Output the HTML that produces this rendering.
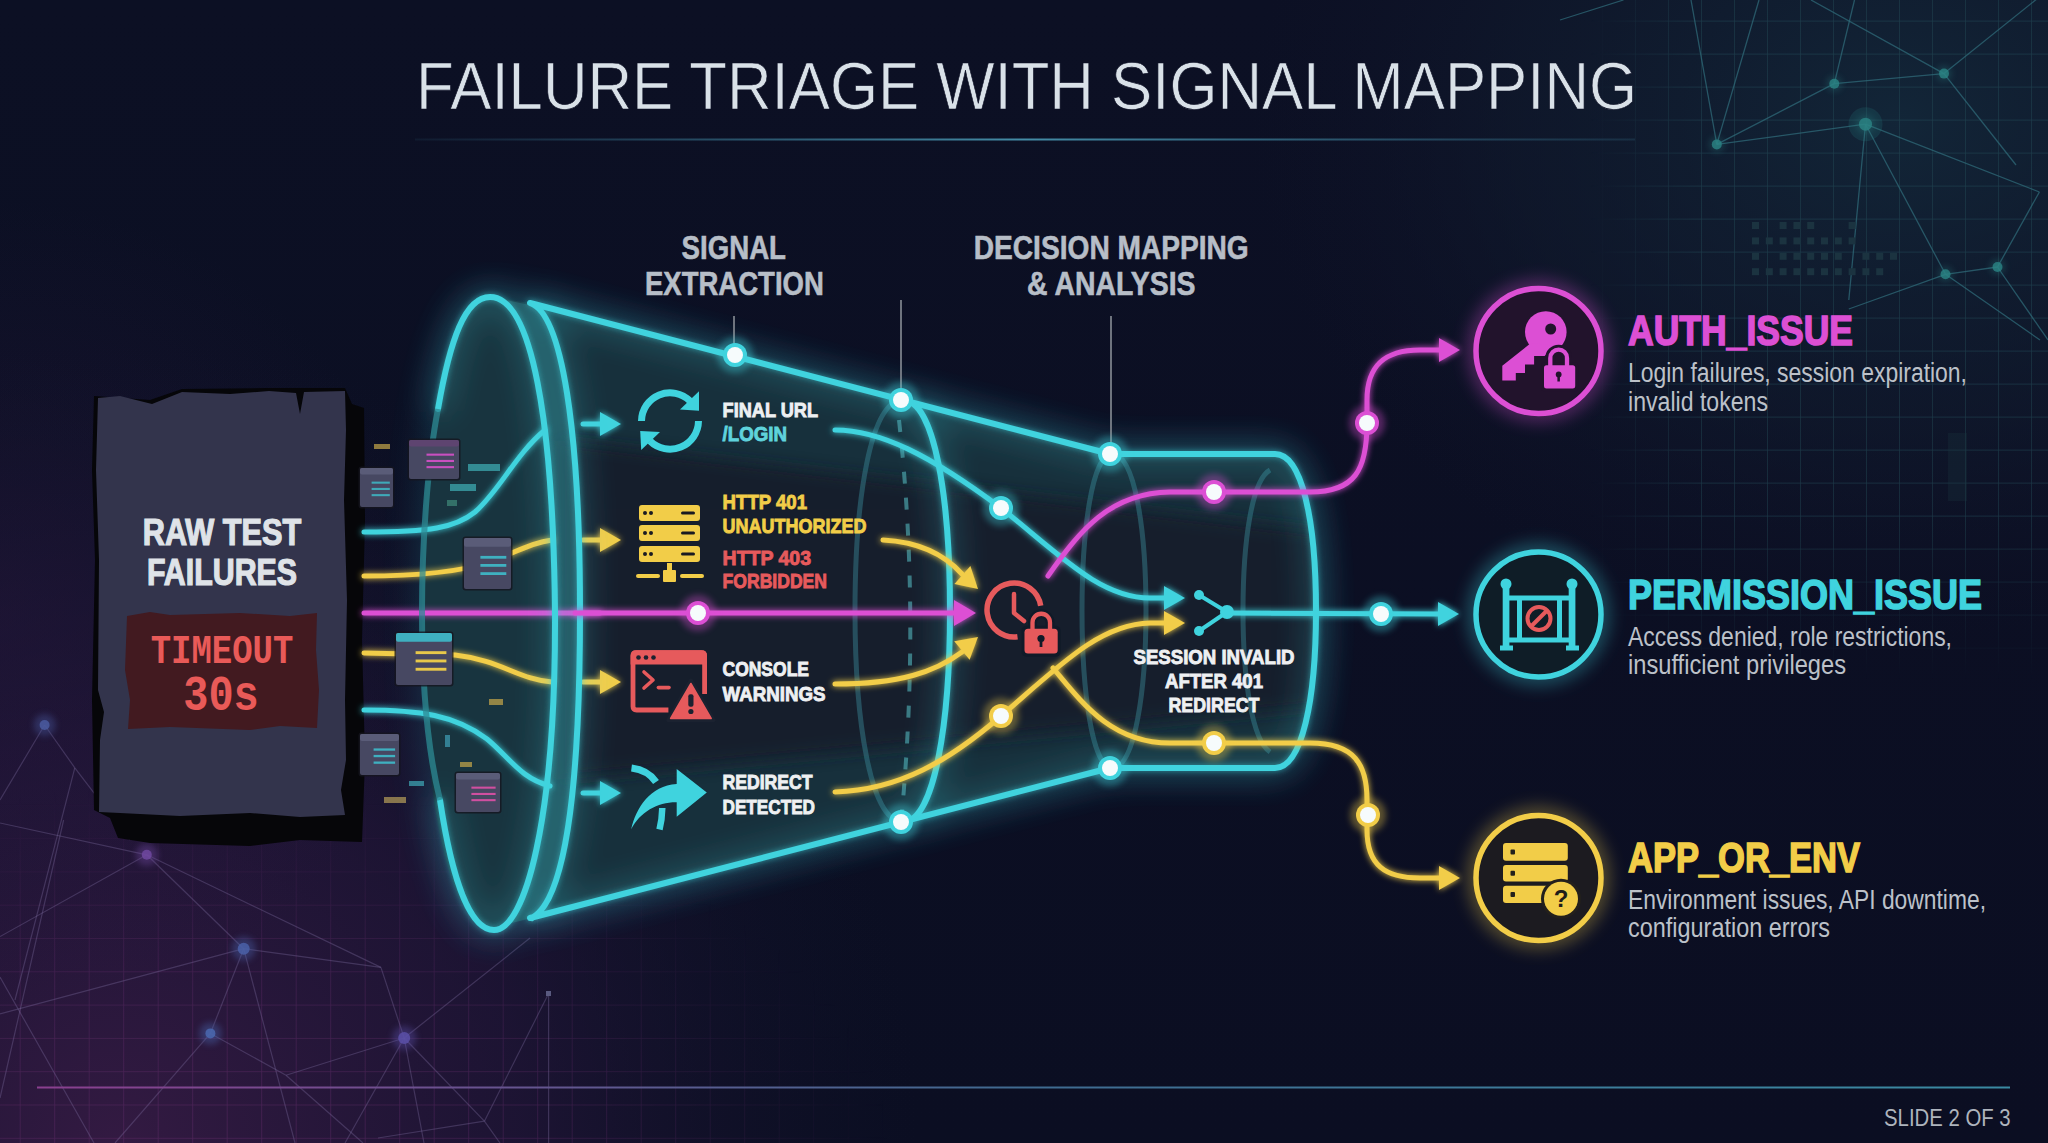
<!DOCTYPE html>
<html><head><meta charset="utf-8"><title>Failure Triage</title><style>
html,body{margin:0;padding:0;background:#0e1124;width:2048px;height:1143px;overflow:hidden}
svg{display:block}
text{font-family:"Liberation Sans",sans-serif}
</style></head><body>
<svg width="2048" height="1143" viewBox="0 0 2048 1143">
<defs>
<radialGradient id="bgPurple" cx="120" cy="1143" r="800" gradientUnits="userSpaceOnUse">
 <stop offset="0" stop-color="#331a42" stop-opacity="1"/>
 <stop offset="0.5" stop-color="#24163a" stop-opacity="0.7"/>
 <stop offset="1" stop-color="#10132a" stop-opacity="0"/>
</radialGradient>
<radialGradient id="bgPurple2" cx="0" cy="620" r="420" gradientUnits="userSpaceOnUse">
 <stop offset="0" stop-color="#2a1840" stop-opacity="0.4"/>
 <stop offset="1" stop-color="#2a1840" stop-opacity="0"/>
</radialGradient>
<radialGradient id="bgTeal" cx="1900" cy="120" r="650" gradientUnits="userSpaceOnUse" gradientTransform="translate(1900 120) scale(1 0.8) translate(-1900 -120)">
 <stop offset="0" stop-color="#13283a" stop-opacity="0.9"/>
 <stop offset="0.6" stop-color="#111d30" stop-opacity="0.5"/>
 <stop offset="1" stop-color="#10132a" stop-opacity="0"/>
</radialGradient>
<linearGradient id="bgBase" x1="0" y1="0" x2="0" y2="1">
 <stop offset="0" stop-color="#0c1024"/>
 <stop offset="1" stop-color="#0b0e22"/>
</linearGradient>
<pattern id="gridT" width="33" height="33" patternUnits="userSpaceOnUse" x="18" y="20.6">
 <path d="M0 0H33M0 0V33" fill="none" stroke="#24505c" stroke-width="1.3" stroke-opacity="0.6"/>
</pattern>
<pattern id="gridP" width="34.5" height="33.3" patternUnits="userSpaceOnUse" x="19.7" y="5.6">
 <path d="M0 0H34.5M0 0V33.3" fill="none" stroke="#5a2a62" stroke-width="1.5" stroke-opacity="0.7"/>
</pattern>
<radialGradient id="mT" cx="1880" cy="120" r="520" gradientUnits="userSpaceOnUse" gradientTransform="translate(1880 120) scale(1 0.8) translate(-1880 -120)">
 <stop offset="0" stop-color="#fff" stop-opacity="1"/><stop offset="0.6" stop-color="#fff" stop-opacity="0.6"/><stop offset="1" stop-color="#fff" stop-opacity="0"/>
</radialGradient>
<linearGradient id="mTYg" x1="0" y1="520" x2="0" y2="680" gradientUnits="userSpaceOnUse"><stop offset="0" stop-color="#fff" stop-opacity="1"/><stop offset="1" stop-color="#fff" stop-opacity="0"/></linearGradient>
<mask id="maskT"><rect width="2048" height="1143" fill="url(#mTYg)"/></mask>
<linearGradient id="mTLg" x1="1590" y1="0" x2="1700" y2="0" gradientUnits="userSpaceOnUse"><stop offset="0" stop-color="#fff" stop-opacity="0"/><stop offset="1" stop-color="#fff" stop-opacity="1"/></linearGradient>
<mask id="maskTL"><rect width="2048" height="1143" fill="url(#mTLg)"/></mask>
<radialGradient id="mP" cx="200" cy="1143" r="600" fx="200" fy="1143" gradientUnits="userSpaceOnUse" gradientTransform="translate(200 1143) scale(1.15 0.6) translate(-200 -1143)">
 <stop offset="0" stop-color="#fff" stop-opacity="1"/><stop offset="0.5" stop-color="#fff" stop-opacity="0.75"/><stop offset="1" stop-color="#fff" stop-opacity="0"/>
</radialGradient>
<mask id="maskP"><rect width="2048" height="1143" fill="url(#mP)"/></mask>
<linearGradient id="titleLine" x1="0" y1="0" x2="1" y2="0">
 <stop offset="0" stop-color="#3a7f9a" stop-opacity="0.1"/>
 <stop offset="0.5" stop-color="#4a9ab5" stop-opacity="0.9"/>
 <stop offset="1" stop-color="#3a7f9a" stop-opacity="0.2"/>
</linearGradient>
<linearGradient id="botLine" x1="0" y1="0" x2="1" y2="0">
 <stop offset="0" stop-color="#8a3f8f"/>
 <stop offset="0.5" stop-color="#3f6a90"/>
 <stop offset="1" stop-color="#3a8aa2"/>
</linearGradient>
<filter id="glow" x="-30%" y="-30%" width="160%" height="160%">
 <feGaussianBlur in="SourceGraphic" stdDeviation="3" result="b1a"/>
 <feComponentTransfer in="b1a" result="b1"><feFuncA type="linear" slope="0.6"/></feComponentTransfer>
 <feGaussianBlur in="SourceGraphic" stdDeviation="16" result="b2a"/>
 <feComponentTransfer in="b2a" result="b2"><feFuncA type="linear" slope="0.8"/></feComponentTransfer>
 <feMerge><feMergeNode in="b2"/><feMergeNode in="b1"/><feMergeNode in="SourceGraphic"/></feMerge>
</filter>
<filter id="glowS" x="-50%" y="-50%" width="200%" height="200%">
 <feGaussianBlur in="SourceGraphic" stdDeviation="3" result="b1"/>
 <feMerge><feMergeNode in="b1"/><feMergeNode in="SourceGraphic"/></feMerge>
</filter>
<filter id="blur20" x="-50%" y="-50%" width="200%" height="200%"><feGaussianBlur stdDeviation="20"/></filter>
<filter id="blur8" x="-50%" y="-50%" width="200%" height="200%"><feGaussianBlur stdDeviation="8"/></filter>
<filter id="blur3" x="-50%" y="-50%" width="200%" height="200%"><feGaussianBlur stdDeviation="3"/></filter>
</defs>

<rect width="2048" height="1143" fill="url(#bgBase)"/>
<rect width="2048" height="1143" fill="url(#bgTeal)"/>
<rect width="2048" height="1143" fill="url(#bgPurple)"/>
<rect width="2048" height="1143" fill="url(#bgPurple2)"/>
<g mask="url(#maskT)"><rect x="1560" y="0" width="488" height="760" fill="url(#gridT)" mask="url(#maskTL)"/></g>
<rect width="2048" height="1143" fill="url(#gridP)" mask="url(#maskP)"/>
<g stroke="#2f6a78" stroke-width="1.3" stroke-opacity="0.75" fill="none">
<line x1="1716.8" y1="144.4" x2="1691" y2="0"/>
<line x1="1716.8" y1="144.4" x2="1759" y2="0"/>
<line x1="1716.8" y1="144.4" x2="1834.3" y2="83.7"/>
<line x1="1716.8" y1="144.4" x2="1865.5" y2="124.2"/>
<line x1="1834.3" y1="83.7" x2="1944" y2="73.6"/>
<line x1="1834.3" y1="83.7" x2="1854.5" y2="0"/>
<line x1="1944" y1="73.6" x2="2048" y2="-10"/>
<line x1="1944" y1="73.6" x2="1811" y2="0"/>
<line x1="1944" y1="73.6" x2="2016" y2="165"/>
<line x1="1865.5" y1="124.2" x2="1945.5" y2="274.3"/>
<line x1="1865.5" y1="124.2" x2="2039.4" y2="192"/>
<line x1="1865.5" y1="124.2" x2="1848.8" y2="300"/>
<line x1="2039.4" y1="192" x2="1997.5" y2="267"/>
<line x1="1997.5" y1="267" x2="2048" y2="340"/>
<line x1="1945.5" y1="274.3" x2="1997.5" y2="267"/>
<line x1="1945.5" y1="274.3" x2="1848.8" y2="309"/>
<line x1="1945.5" y1="274.3" x2="2040" y2="340"/>
<line x1="1560" y1="20" x2="1623.5" y2="0"/>
</g>
<circle cx="1834.3" cy="83.7" r="8" fill="#2a8a8a" opacity="0.25" filter="url(#blur3)"/>
<circle cx="1834.3" cy="83.7" r="5" fill="#2a8585" opacity="0.8"/>
<circle cx="1944" cy="73.6" r="8" fill="#2a8a8a" opacity="0.25" filter="url(#blur3)"/>
<circle cx="1944" cy="73.6" r="5" fill="#2a8585" opacity="0.8"/>
<circle cx="1865.5" cy="124.2" r="17" fill="#2a8a8a" opacity="0.18"/>
<circle cx="1865.5" cy="124.2" r="9.5" fill="#2a8a8a" opacity="0.25" filter="url(#blur3)"/>
<circle cx="1865.5" cy="124.2" r="6.5" fill="#2a8585" opacity="0.8"/>
<circle cx="1716.8" cy="144.4" r="8" fill="#2a8a8a" opacity="0.25" filter="url(#blur3)"/>
<circle cx="1716.8" cy="144.4" r="5" fill="#2a8585" opacity="0.8"/>
<circle cx="1945.5" cy="274.3" r="8" fill="#2a8a8a" opacity="0.25" filter="url(#blur3)"/>
<circle cx="1945.5" cy="274.3" r="5" fill="#2a8585" opacity="0.8"/>
<circle cx="1997.5" cy="267" r="8" fill="#2a8a8a" opacity="0.25" filter="url(#blur3)"/>
<circle cx="1997.5" cy="267" r="5" fill="#2a8585" opacity="0.8"/>
<rect x="1948" y="433" width="19" height="68" fill="#1a3440" opacity="0.3"/>
<g fill="#1b3340">
<rect x="1752.0" y="222.0" width="7" height="7"/>
<rect x="1779.6" y="222.0" width="7" height="7"/>
<rect x="1793.4" y="222.0" width="7" height="7"/>
<rect x="1807.2" y="222.0" width="7" height="7"/>
<rect x="1848.6" y="222.0" width="7" height="7"/>
<rect x="1752.0" y="237.4" width="7" height="7"/>
<rect x="1765.8" y="237.4" width="7" height="7"/>
<rect x="1779.6" y="237.4" width="7" height="7"/>
<rect x="1793.4" y="237.4" width="7" height="7"/>
<rect x="1807.2" y="237.4" width="7" height="7"/>
<rect x="1821.0" y="237.4" width="7" height="7"/>
<rect x="1834.8" y="237.4" width="7" height="7"/>
<rect x="1848.6" y="237.4" width="7" height="7"/>
<rect x="1752.0" y="252.8" width="7" height="7"/>
<rect x="1779.6" y="252.8" width="7" height="7"/>
<rect x="1793.4" y="252.8" width="7" height="7"/>
<rect x="1807.2" y="252.8" width="7" height="7"/>
<rect x="1821.0" y="252.8" width="7" height="7"/>
<rect x="1834.8" y="252.8" width="7" height="7"/>
<rect x="1862.4" y="252.8" width="7" height="7"/>
<rect x="1876.2" y="252.8" width="7" height="7"/>
<rect x="1890.0" y="252.8" width="7" height="7"/>
<rect x="1752.0" y="268.2" width="7" height="7"/>
<rect x="1765.8" y="268.2" width="7" height="7"/>
<rect x="1779.6" y="268.2" width="7" height="7"/>
<rect x="1793.4" y="268.2" width="7" height="7"/>
<rect x="1807.2" y="268.2" width="7" height="7"/>
<rect x="1821.0" y="268.2" width="7" height="7"/>
<rect x="1834.8" y="268.2" width="7" height="7"/>
<rect x="1848.6" y="268.2" width="7" height="7"/>
<rect x="1862.4" y="268.2" width="7" height="7"/>
<rect x="1876.2" y="268.2" width="7" height="7"/>
</g>
<g stroke="#7a6a9a" stroke-width="1.2" stroke-opacity="0.38" fill="none">
<line x1="44.6" y1="725" x2="74.8" y2="767.8"/>
<line x1="44.6" y1="725" x2="0" y2="800"/>
<line x1="74.8" y1="767.8" x2="130" y2="840"/>
<line x1="74.8" y1="767.8" x2="15" y2="1000"/>
<line x1="0" y1="936.6" x2="146.8" y2="854.8"/>
<line x1="0" y1="823" x2="146.8" y2="854.8"/>
<line x1="63.6" y1="820" x2="0" y2="1098"/>
<line x1="0" y1="977" x2="94" y2="1143"/>
<line x1="0" y1="1013.8" x2="243.7" y2="948.7"/>
<line x1="146.8" y1="854.8" x2="243.7" y2="948.7"/>
<line x1="146.8" y1="854.8" x2="380.9" y2="967.4"/>
<line x1="243.7" y1="948.7" x2="380.9" y2="967.4"/>
<line x1="243.7" y1="948.7" x2="210.4" y2="1033.4"/>
<line x1="243.7" y1="948.7" x2="295" y2="1143"/>
<line x1="210.4" y1="1033.4" x2="115" y2="1143"/>
<line x1="210.4" y1="1033.4" x2="286" y2="1075.2"/>
<line x1="286" y1="1075.2" x2="363" y2="1143"/>
<line x1="286" y1="1075.2" x2="404.2" y2="1038"/>
<line x1="380.9" y1="967.4" x2="404.2" y2="1038"/>
<line x1="404.2" y1="1038" x2="345" y2="1143"/>
<line x1="404.2" y1="1038" x2="484.4" y2="1121.2"/>
<line x1="404.2" y1="1038" x2="424" y2="1143"/>
<line x1="484.4" y1="1121.2" x2="548.6" y2="993.5"/>
<line x1="548.6" y1="993.5" x2="548.6" y2="1143"/>
<line x1="404.2" y1="1038" x2="530" y2="938"/>
<line x1="484.4" y1="1121.2" x2="378" y2="1138"/>
<line x1="484.4" y1="1121.2" x2="500" y2="1143"/>
</g>
<circle cx="44.6" cy="725" r="11" fill="#4a5aa0" opacity="0.4" filter="url(#blur3)"/>
<circle cx="44.6" cy="725" r="5" fill="#4a5aa0" opacity="0.85"/>
<circle cx="146.8" cy="854.8" r="11" fill="#7048a0" opacity="0.4" filter="url(#blur3)"/>
<circle cx="146.8" cy="854.8" r="5" fill="#7048a0" opacity="0.85"/>
<circle cx="243.7" cy="948.7" r="12" fill="#4a60a8" opacity="0.4" filter="url(#blur3)"/>
<circle cx="243.7" cy="948.7" r="6" fill="#4a60a8" opacity="0.85"/>
<circle cx="210.4" cy="1033.4" r="11" fill="#4a68b0" opacity="0.4" filter="url(#blur3)"/>
<circle cx="210.4" cy="1033.4" r="5" fill="#4a68b0" opacity="0.85"/>
<circle cx="404.2" cy="1038" r="12" fill="#5a50a8" opacity="0.4" filter="url(#blur3)"/>
<circle cx="404.2" cy="1038" r="6" fill="#5a50a8" opacity="0.85"/>
<rect x="546" y="991" width="5" height="5" fill="#5a5a80"/>
<text x="416" y="109" font-size="66" fill="#d9e1e8" stroke="#0d1025" stroke-width="0.7" textLength="1221" lengthAdjust="spacingAndGlyphs">FAILURE TRIAGE WITH SIGNAL MAPPING</text>
<rect x="415" y="138.5" width="1220" height="2" fill="url(#titleLine)"/>
<rect x="37" y="1086.5" width="1973" height="2" fill="url(#botLine)"/>
<text x="1884" y="1125.6" font-size="24" fill="#aeb4bd" textLength="126.6" lengthAdjust="spacingAndGlyphs">SLIDE 2 OF 3</text>
<path d="M94,396 L150,400 L182,389 L268,388 L345,388 L352,404 L364,408 L365,520 L362,640 L365,760 L362,842 L300,840 L250,846 L150,843 L118,838 L110,818 L94,810 L92,700 L95,560 L92,470 Z" fill="#060609"/>
<path d="M98,398 L120,396 L152,404 L182,392 L230,394 L269,391 L296,393 L300,414 L304,392 L345,391 L346,430 L344,500 L347,600 L345,700 L346,760 L341,790 L345,815 L300,817 L250,813 L180,816 L120,813 L99,812 L100,740 L104,712 L98,690 L99,560 L96,470 Z" fill="#33344c"/>
<path d="M127,616 L150,612 L170,615 L240,613 L290,616 L317,613 L316,650 L319,690 L317,728 L280,726 L250,730 L170,727 L128,729 L130,700 L125,670 Z" fill="#421a20"/>
<text x="222" y="545" font-size="36" font-weight="bold" fill="#dfe3e8" text-anchor="middle" textLength="158.5" lengthAdjust="spacingAndGlyphs" stroke="#dfe3e8" stroke-width="1.2" >RAW TEST</text>
<text x="222" y="585" font-size="36" font-weight="bold" fill="#dfe3e8" text-anchor="middle" textLength="150" lengthAdjust="spacingAndGlyphs" stroke="#dfe3e8" stroke-width="1.2" >FAILURES</text>
<text x="222" y="662.7" font-size="40" font-weight="bold" fill="#e95a58" text-anchor="middle" textLength="142.6" lengthAdjust="spacingAndGlyphs" style="font-family:'Liberation Mono',monospace">TIMEOUT</text>
<text x="221" y="710" font-size="50" font-weight="bold" fill="#e95a58" text-anchor="middle" textLength="75.6" lengthAdjust="spacingAndGlyphs" style="font-family:'Liberation Mono',monospace">30s</text>
<path d="M490,297 C445,297 422,420 422,612 C422,800 450,928 492,928 L530,918 L1110,768 L1275,768 C1302,768 1316,700 1316,611 C1316,520 1302,454 1275,454 L1110,454 L530,303 L490,297 Z" fill="#2fc8d8" opacity="0.22" filter="url(#blur20)"/>
<path d="M490,297 C445,297 422,420 422,612 C422,800 450,928 492,928 L530,918 L1110,768 L1275,768 C1302,768 1316,700 1316,611 C1316,520 1302,454 1275,454 L1110,454 L530,303 L490,297 Z" fill="#17303c"/>
<clipPath id="coneClip"><path d="M490,297 C445,297 422,420 422,612 C422,800 450,928 492,928 L530,918 L1110,768 L1275,768 C1302,768 1316,700 1316,611 C1316,520 1302,454 1275,454 L1110,454 L530,303 L490,297 Z"/></clipPath>
<g clip-path="url(#coneClip)">
<path d="M560,440 L1330,532 L1330,706 L560,780 Z" fill="#141d2c" opacity="0.85" filter="url(#blur8)"/>
<ellipse cx="489" cy="612" rx="67" ry="315" fill="#1c4048" opacity="0.25"/>
</g>
<path d="M490,297 C535,297 556,420 556,612 C556,800 535,928 492,928 L532,918 C565,900 580,790 580,612 C580,430 562,315 530,305 Z" fill="#2a6670" opacity="0.5"/>
<g fill="none" stroke="#3a8a98" stroke-width="5" opacity="0.45">
<path d="M903,400 C870,400 855,500 855,611 C855,720 870,822 903,822"/>
<path d="M1112,454 C1092,454 1082,530 1082,611 C1082,690 1092,768 1112,768"/>
<path d="M1112,454 C1135,454 1146,530 1146,611 C1146,690 1135,768 1112,768"/>
<path d="M1270,470 C1252,480 1243,540 1243,611 C1243,680 1252,740 1270,752"/>
</g>
<path d="M899,420 Q920,611 902,812" fill="none" stroke="#4aa0a8" stroke-width="4" stroke-dasharray="12 14" opacity="0.7"/>
<g filter="url(#glowS)">
<path d="M364,532 C430,532 455,528 475,512 C500,490 515,455 545,430" fill="none" stroke="#3fd3de" stroke-width="5" stroke-linecap="round" opacity="1"/>
<path d="M583,424 L602,424" fill="none" stroke="#3fd3de" stroke-width="5" stroke-linecap="round" opacity="1"/>
<path d="M621.0,424.0 L600.0,436.0 L600.0,412.0 Z" fill="#3fd3de"/>
<path d="M364,576 C420,576 460,572 490,562 C520,550 535,542 552,540" fill="none" stroke="#f2cd48" stroke-width="5" stroke-linecap="round" opacity="1"/>
<path d="M583,540 L602,540" fill="none" stroke="#f2cd48" stroke-width="5" stroke-linecap="round" opacity="1"/>
<path d="M621.0,540.0 L600.0,552.0 L600.0,528.0 Z" fill="#f2cd48"/>
<path d="M364,613 L600,613" fill="none" stroke="#dc4fd4" stroke-width="5" stroke-linecap="round" opacity="1"/>
<path d="M364,653 L455,655 C500,660 520,680 552,682" fill="none" stroke="#f2cd48" stroke-width="5" stroke-linecap="round" opacity="1"/>
<path d="M583,682 L602,682" fill="none" stroke="#f2cd48" stroke-width="5" stroke-linecap="round" opacity="1"/>
<path d="M621.0,682.0 L600.0,694.0 L600.0,670.0 Z" fill="#f2cd48"/>
<path d="M364,710 C420,710 455,715 487,739 C510,758 520,778 550,786" fill="none" stroke="#3fd3de" stroke-width="5" stroke-linecap="round" opacity="1"/>
<path d="M583,793 L602,793" fill="none" stroke="#3fd3de" stroke-width="5" stroke-linecap="round" opacity="1"/>
<path d="M621.0,793.0 L600.0,805.0 L600.0,781.0 Z" fill="#3fd3de"/>
</g>
<g fill="none" stroke="#3fd3de" stroke-width="6" stroke-linecap="round" stroke-linejoin="round" filter="url(#glow)">
<path d="M438,409 C450,340 465,297 490,297 C532,297 553,420 555,612 C556,820 525,930 494,930 C470,930 452,880 440,800"/>
<path d="M532,918 C565,900 580,790 580,612 C580,430 562,313 530,303 L1110,454 L1275,454 C1302,454 1316,520 1316,611 C1316,700 1302,768 1275,768 L1110,768 L530,918"/>
<path d="M903,400 C935,400 950,500 950,611 C950,720 935,822 903,822"/>
</g>
<path d="M438,409 C428,460 422,540 422,612 C422,700 430,760 440,800" fill="none" stroke="#2c8a94" stroke-width="6" opacity="0.75"/>
<g><rect x="407.5" y="438.5" width="53" height="42" rx="3" fill="#15151f" opacity="0.8"/><rect x="409" y="440" width="50" height="39" rx="2" fill="#474862"/><rect x="409" y="440" width="50" height="6.6" rx="2" fill="#5e4470"/>
<rect x="426.5" y="453.6" width="27.5" height="2.1" fill="#c94fc0"/>
<rect x="426.5" y="459.9" width="27.5" height="2.1" fill="#c94fc0"/>
<rect x="426.5" y="466.1" width="27.5" height="2.1" fill="#c94fc0"/>
</g>
<g><rect x="358.5" y="466.5" width="36" height="42" rx="3" fill="#15151f" opacity="0.8"/><rect x="360" y="468" width="33" height="39" rx="2" fill="#474862"/><rect x="360" y="468" width="33" height="6.6" rx="2" fill="#5a5c78"/>
<rect x="371.6" y="481.6" width="18.2" height="2.1" fill="#3fa9b8"/>
<rect x="371.6" y="487.9" width="18.2" height="2.1" fill="#3fa9b8"/>
<rect x="371.6" y="494.1" width="18.2" height="2.1" fill="#3fa9b8"/>
</g>
<g><rect x="394.5" y="631.5" width="59" height="55" rx="3" fill="#15151f" opacity="0.8"/><rect x="396" y="633" width="56" height="52" rx="2" fill="#474862"/><rect x="396" y="633" width="56" height="8.8" rx="2" fill="#3fb0c0"/>
<rect x="415.6" y="651.2" width="30.8" height="2.9" fill="#e8c84a"/>
<rect x="415.6" y="659.5" width="30.8" height="2.9" fill="#e8c84a"/>
<rect x="415.6" y="667.8" width="30.8" height="2.9" fill="#e8c84a"/>
</g>
<g><rect x="462.5" y="536.5" width="50" height="54" rx="3" fill="#15151f" opacity="0.8"/><rect x="464" y="538" width="47" height="51" rx="2" fill="#474862"/><rect x="464" y="538" width="47" height="8.7" rx="2" fill="#5a5c78"/>
<rect x="480.4" y="555.9" width="25.9" height="2.8" fill="#3fb0c0"/>
<rect x="480.4" y="564.0" width="25.9" height="2.8" fill="#3fb0c0"/>
<rect x="480.4" y="572.2" width="25.9" height="2.8" fill="#3fb0c0"/>
</g>
<g><rect x="358.5" y="732.5" width="42" height="44" rx="3" fill="#15151f" opacity="0.8"/><rect x="360" y="734" width="39" height="41" rx="2" fill="#474862"/><rect x="360" y="734" width="39" height="7.0" rx="2" fill="#5a5c78"/>
<rect x="373.6" y="748.4" width="21.5" height="2.3" fill="#3fb0c0"/>
<rect x="373.6" y="754.9" width="21.5" height="2.3" fill="#3fb0c0"/>
<rect x="373.6" y="761.5" width="21.5" height="2.3" fill="#3fb0c0"/>
</g>
<g><rect x="454.5" y="771.5" width="47" height="42" rx="3" fill="#15151f" opacity="0.8"/><rect x="456" y="773" width="44" height="39" rx="2" fill="#474862"/><rect x="456" y="773" width="44" height="6.6" rx="2" fill="#5a5c78"/>
<rect x="471.4" y="786.6" width="24.2" height="2.1" fill="#d04fa0"/>
<rect x="471.4" y="792.9" width="24.2" height="2.1" fill="#d04fa0"/>
<rect x="471.4" y="799.1" width="24.2" height="2.1" fill="#d04fa0"/>
</g>
<rect x="374" y="444" width="16" height="5" fill="#c8a84a" opacity="0.7"/>
<rect x="468" y="464" width="32" height="7" fill="#3fb0b8" opacity="0.7"/>
<rect x="450" y="484" width="26" height="7" fill="#3fb0b8" opacity="0.7"/>
<rect x="447" y="500" width="10" height="6" fill="#3f8a7a" opacity="0.7"/>
<rect x="489" y="699" width="14" height="6" fill="#c8a84a" opacity="0.7"/>
<rect x="445" y="735" width="5" height="12" fill="#3fa0b8" opacity="0.7"/>
<rect x="460" y="762" width="12" height="5" fill="#c8a84a" opacity="0.7"/>
<rect x="409" y="781" width="15" height="5" fill="#3fa9b8" opacity="0.7"/>
<rect x="384" y="797" width="22" height="6" fill="#b8a05a" opacity="0.7"/>
<g stroke="#7a8089" stroke-width="1.8">
<line x1="734" y1="316" x2="734" y2="352"/><line x1="901" y1="300" x2="901" y2="396"/><line x1="1111" y1="316" x2="1111" y2="450"/>
</g>
<text x="733.8" y="259.4" font-size="32.7" font-weight="bold" fill="#b7bec7" text-anchor="middle" textLength="104.4" lengthAdjust="spacingAndGlyphs" stroke="#b7bec7" stroke-width="0.6" >SIGNAL</text>
<text x="734.4" y="295.3" font-size="32.7" font-weight="bold" fill="#b7bec7" text-anchor="middle" textLength="178.75" lengthAdjust="spacingAndGlyphs" stroke="#b7bec7" stroke-width="0.6" >EXTRACTION</text>
<text x="1111.25" y="259.4" font-size="32.7" font-weight="bold" fill="#b7bec7" text-anchor="middle" textLength="275" lengthAdjust="spacingAndGlyphs" stroke="#b7bec7" stroke-width="0.6" >DECISION MAPPING</text>
<text x="1111.3" y="295.3" font-size="32.7" font-weight="bold" fill="#b7bec7" text-anchor="middle" textLength="168.6" lengthAdjust="spacingAndGlyphs" stroke="#b7bec7" stroke-width="0.6" >&amp; ANALYSIS</text>
<g filter="url(#glowS)">
<path d="M575,613 L960,613" fill="none" stroke="#dc4fd4" stroke-width="5" stroke-linecap="round" opacity="1"/>
<path d="M976.0,613.0 L954.0,626.0 L954.0,600.0 Z" fill="#dc4fd4"/>
<path d="M835,430 C880,430 930,455 1001,508 C1060,555 1100,598 1150,598 L1166,598" fill="none" stroke="#3fd3de" stroke-width="5" stroke-linecap="round" opacity="1"/>
<path d="M1185.0,598.0 L1164.0,610.0 L1164.0,586.0 Z" fill="#3fd3de"/>
<path d="M883,540 C920,542 945,555 962,574" fill="none" stroke="#f2cd48" stroke-width="5" stroke-linecap="round" opacity="1"/>
<path d="M978.0,589.0 L954.4,583.9 L970.4,566.0 Z" fill="#f2cd48"/>
<path d="M835,684 C900,684 935,672 962,652" fill="none" stroke="#f2cd48" stroke-width="5" stroke-linecap="round" opacity="1"/>
<path d="M978.0,637.0 L969.6,659.7 L954.2,641.3 Z" fill="#f2cd48"/>
<path d="M835,792 C900,790 950,760 1001,716 C1060,665 1100,624 1150,623 L1166,623" fill="none" stroke="#f2cd48" stroke-width="5" stroke-linecap="round" opacity="1"/>
<path d="M1185.0,623.0 L1164.0,635.0 L1164.0,611.0 Z" fill="#f2cd48"/>
<path d="M1048,576 C1080,530 1110,493 1170,492 L1310,492 C1355,492 1367,470 1367,423 L1367,400 C1367,365 1385,350 1420,350 L1440,350" fill="none" stroke="#dc4fd4" stroke-width="5" stroke-linecap="round" opacity="1"/>
<path d="M1460.0,350.0 L1439.0,362.0 L1439.0,338.0 Z" fill="#dc4fd4"/>
<path d="M1227,613 L1440,614" fill="none" stroke="#3fd3de" stroke-width="5" stroke-linecap="round" opacity="1"/>
<path d="M1459.0,614.0 L1438.0,626.0 L1438.0,602.0 Z" fill="#3fd3de"/>
<path d="M1053,668 C1080,700 1110,743 1170,743 L1310,743 C1355,743 1367,765 1367,800 L1367,830 C1367,865 1385,878 1420,878 L1440,878" fill="none" stroke="#f2cd48" stroke-width="5" stroke-linecap="round" opacity="1"/>
<path d="M1460.0,878.0 L1439.0,890.0 L1439.0,866.0 Z" fill="#f2cd48"/>
</g>
<circle cx="735" cy="355" r="18" fill="#3fd3de" opacity="0.35" filter="url(#blur3)"/>
<circle cx="735" cy="355" r="12" fill="#3fd3de"/>
<circle cx="735" cy="355" r="8" fill="#f6fbfc"/>
<circle cx="901" cy="400" r="18" fill="#3fd3de" opacity="0.35" filter="url(#blur3)"/>
<circle cx="901" cy="400" r="12" fill="#3fd3de"/>
<circle cx="901" cy="400" r="8" fill="#f6fbfc"/>
<circle cx="1110" cy="454" r="18" fill="#3fd3de" opacity="0.35" filter="url(#blur3)"/>
<circle cx="1110" cy="454" r="12" fill="#3fd3de"/>
<circle cx="1110" cy="454" r="8" fill="#f6fbfc"/>
<circle cx="1001" cy="508" r="18" fill="#3fd3de" opacity="0.35" filter="url(#blur3)"/>
<circle cx="1001" cy="508" r="12" fill="#3fd3de"/>
<circle cx="1001" cy="508" r="8" fill="#f6fbfc"/>
<circle cx="1110" cy="768" r="18" fill="#3fd3de" opacity="0.35" filter="url(#blur3)"/>
<circle cx="1110" cy="768" r="12" fill="#3fd3de"/>
<circle cx="1110" cy="768" r="8" fill="#f6fbfc"/>
<circle cx="901" cy="822" r="18" fill="#3fd3de" opacity="0.35" filter="url(#blur3)"/>
<circle cx="901" cy="822" r="12" fill="#3fd3de"/>
<circle cx="901" cy="822" r="8" fill="#f6fbfc"/>
<circle cx="1381" cy="614" r="18" fill="#3fd3de" opacity="0.35" filter="url(#blur3)"/>
<circle cx="1381" cy="614" r="12" fill="#3fd3de"/>
<circle cx="1381" cy="614" r="8" fill="#f6fbfc"/>
<circle cx="698" cy="613" r="18" fill="#dc4fd4" opacity="0.35" filter="url(#blur3)"/>
<circle cx="698" cy="613" r="12" fill="#dc4fd4"/>
<circle cx="698" cy="613" r="8" fill="#f6fbfc"/>
<circle cx="1214" cy="492" r="18" fill="#dc4fd4" opacity="0.35" filter="url(#blur3)"/>
<circle cx="1214" cy="492" r="12" fill="#dc4fd4"/>
<circle cx="1214" cy="492" r="8" fill="#f6fbfc"/>
<circle cx="1367" cy="423" r="18" fill="#dc4fd4" opacity="0.35" filter="url(#blur3)"/>
<circle cx="1367" cy="423" r="12" fill="#dc4fd4"/>
<circle cx="1367" cy="423" r="8" fill="#f6fbfc"/>
<circle cx="1001" cy="716" r="18" fill="#f2cd48" opacity="0.35" filter="url(#blur3)"/>
<circle cx="1001" cy="716" r="12" fill="#f2cd48"/>
<circle cx="1001" cy="716" r="8" fill="#f6fbfc"/>
<circle cx="1214" cy="743" r="18" fill="#f2cd48" opacity="0.35" filter="url(#blur3)"/>
<circle cx="1214" cy="743" r="12" fill="#f2cd48"/>
<circle cx="1214" cy="743" r="8" fill="#f6fbfc"/>
<circle cx="1368" cy="815" r="18" fill="#f2cd48" opacity="0.35" filter="url(#blur3)"/>
<circle cx="1368" cy="815" r="12" fill="#f2cd48"/>
<circle cx="1368" cy="815" r="8" fill="#f6fbfc"/>
<g fill="none" stroke="#3fd3de" stroke-width="7" stroke-linecap="butt">
<path d="M641.5,421 A28.5,28.5 0 0 1 690,401"/>
<path d="M698.5,421 A28.5,28.5 0 0 1 650,441"/>
</g>
<path d="M699,391.2 L699,410.8 L680,409.4 Z" fill="#3fd3de"/>
<path d="M640.2,431 L660,432 L641.2,450 Z" fill="#3fd3de"/>
<rect x="639" y="505" width="61" height="16" rx="3" fill="#f2cd48"/>
<circle cx="645" cy="513" r="2" fill="#1a1a22"/><circle cx="651" cy="513" r="2" fill="#1a1a22"/>
<rect x="681" y="511.5" width="14" height="3" rx="1.5" fill="#1a1a22"/>
<rect x="639" y="525" width="61" height="16" rx="3" fill="#f2cd48"/>
<circle cx="645" cy="533" r="2" fill="#1a1a22"/><circle cx="651" cy="533" r="2" fill="#1a1a22"/>
<rect x="681" y="531.5" width="14" height="3" rx="1.5" fill="#1a1a22"/>
<rect x="639" y="546" width="61" height="16" rx="3" fill="#f2cd48"/>
<circle cx="645" cy="554" r="2" fill="#1a1a22"/><circle cx="651" cy="554" r="2" fill="#1a1a22"/>
<rect x="681" y="552.5" width="14" height="3" rx="1.5" fill="#1a1a22"/>
<rect x="667" y="563" width="5" height="10" fill="#f2cd48"/><rect x="663" y="570" width="13" height="12" rx="1" fill="#f2cd48"/>
<rect x="636" y="574" width="24" height="4" rx="2" fill="#f2cd48"/><rect x="680" y="574" width="24" height="4" rx="2" fill="#f2cd48"/>
<path d="M704.6,694 L704.6,656 Q704.6,652.6 701,652.6 L636.6,652.6 Q633,652.6 633,656 L633,706.6 Q633,710 636.6,710 L668.4,710" fill="none" stroke="#e65a5c" stroke-width="4.8"/>
<path d="M630.6,664.4 L630.6,655.5 Q630.6,650.2 636,650.2 L701.6,650.2 Q707,650.2 707,655.5 L707,664.4 Z" fill="#e65a5c"/>
<circle cx="638.5" cy="657.5" r="2.3" fill="#1b2230"/><circle cx="646" cy="657.5" r="2.3" fill="#1b2230"/><circle cx="653.5" cy="657.5" r="2.3" fill="#1b2230"/>
<path d="M644,672 L653,680 L644,688" fill="none" stroke="#e65a5c" stroke-width="3.6" stroke-linecap="round" stroke-linejoin="round"/><rect x="656.6" y="685.8" width="14.2" height="3.6" rx="1.8" fill="#e65a5c"/>
<path d="M690.9,680.5 L713.5,720.3 L668.4,720.3 Z" fill="#1b2230" stroke="#1b2230" stroke-width="4" stroke-linejoin="round"/>
<path d="M690.9,683.5 L711.2,718.5 L670.6,718.5 Z" fill="#e65a5c" stroke="#e65a5c" stroke-width="1.5" stroke-linejoin="round"/>
<rect x="688.3" y="694.3" width="5.2" height="12.5" rx="2" fill="#1b2230"/><circle cx="690.9" cy="711.5" r="2.6" fill="#1b2230"/>
<path d="M631.2,829.3 C636,808 650,786 676.7,784.1 L676.7,769.1 L706.8,792.5 L676.7,816.7 L676.7,802.3 C658,802 640,812 631.2,829.3 Z" fill="#3fd3de"/>
<path d="M631.5,768 Q648,770 656,782" fill="none" stroke="#3fd3de" stroke-width="7"/>
<path d="M662.3,808 Q662,820 659.5,829.5" fill="none" stroke="#3fd3de" stroke-width="6.5"/>
<text x="722.6" y="416.7" font-size="21" font-weight="bold" fill="#eef0f2" text-anchor="start" textLength="95.4" lengthAdjust="spacingAndGlyphs" stroke="#eef0f2" stroke-width="0.9" >FINAL URL</text>
<text x="722.6" y="441.4" font-size="21" font-weight="bold" fill="#5fd3dc" text-anchor="start" textLength="64.4" lengthAdjust="spacingAndGlyphs" stroke="#5fd3dc" stroke-width="0.9" >/LOGIN</text>
<text x="722.6" y="508.8" font-size="21" font-weight="bold" fill="#f2cd48" text-anchor="start" textLength="84.4" lengthAdjust="spacingAndGlyphs" stroke="#f2cd48" stroke-width="0.9" >HTTP 401</text>
<text x="722.6" y="532.6" font-size="21" font-weight="bold" fill="#f2cd48" text-anchor="start" textLength="143.9" lengthAdjust="spacingAndGlyphs" stroke="#f2cd48" stroke-width="0.9" >UNAUTHORIZED</text>
<text x="722.6" y="565" font-size="21" font-weight="bold" fill="#e65a5c" text-anchor="start" textLength="88.4" lengthAdjust="spacingAndGlyphs" stroke="#e65a5c" stroke-width="0.9" >HTTP 403</text>
<text x="722.6" y="588" font-size="21" font-weight="bold" fill="#e65a5c" text-anchor="start" textLength="104.4" lengthAdjust="spacingAndGlyphs" stroke="#e65a5c" stroke-width="0.9" >FORBIDDEN</text>
<text x="722.5" y="676" font-size="21" font-weight="bold" fill="#eef0f2" text-anchor="start" textLength="86.5" lengthAdjust="spacingAndGlyphs" stroke="#eef0f2" stroke-width="0.9" >CONSOLE</text>
<text x="722.5" y="700.7" font-size="21" font-weight="bold" fill="#eef0f2" text-anchor="start" textLength="103" lengthAdjust="spacingAndGlyphs" stroke="#eef0f2" stroke-width="0.9" >WARNINGS</text>
<text x="722.5" y="789" font-size="21" font-weight="bold" fill="#eef0f2" text-anchor="start" textLength="90.1" lengthAdjust="spacingAndGlyphs" stroke="#eef0f2" stroke-width="0.9" >REDIRECT</text>
<text x="722.5" y="813.8" font-size="21" font-weight="bold" fill="#eef0f2" text-anchor="start" textLength="92.5" lengthAdjust="spacingAndGlyphs" stroke="#eef0f2" stroke-width="0.9" >DETECTED</text>
<path d="M1017.5,636.8 A27,27 0 1 1 1040.7,605.8" fill="none" stroke="#e65a5c" stroke-width="5.5"/>
<path d="M1014,594 L1014,613 L1024,621" fill="none" stroke="#e65a5c" stroke-width="4.5" stroke-linecap="round" stroke-linejoin="round"/>
<path d="M1032.5,629 L1032.5,622.5 A8.75,8.75 0 0 1 1050,622.5 L1050,629" fill="none" stroke="#101a28" stroke-width="9"/>
<rect x="1021.5" y="625.7" width="39.2" height="31" rx="5" fill="#101a28"/>
<path d="M1032.5,630 L1032.5,622.5 A8.75,8.75 0 0 1 1050,622.5 L1050,630" fill="none" stroke="#e65a5c" stroke-width="4.3"/>
<rect x="1024.5" y="628.7" width="33.2" height="24.8" rx="3.5" fill="#e65a5c"/>
<circle cx="1041" cy="638.5" r="3.6" fill="#101a28"/><rect x="1039.6" y="639.5" width="2.8" height="7.5" fill="#101a28"/>
<g stroke="#3fd3de" stroke-width="4" fill="#3fd3de"><line x1="1199" y1="595" x2="1227" y2="612"/><line x1="1199" y1="631" x2="1227" y2="612"/></g>
<circle cx="1199" cy="595" r="5" fill="#3fd3de"/><circle cx="1199" cy="631" r="5" fill="#3fd3de"/><circle cx="1227" cy="612" r="7" fill="#3fd3de"/>
<text x="1214" y="663.5" font-size="21" font-weight="bold" fill="#eef0f2" text-anchor="middle" textLength="161" lengthAdjust="spacingAndGlyphs" stroke="#eef0f2" stroke-width="0.9" >SESSION INVALID</text>
<text x="1214" y="688" font-size="21" font-weight="bold" fill="#eef0f2" text-anchor="middle" textLength="98" lengthAdjust="spacingAndGlyphs" stroke="#eef0f2" stroke-width="0.9" >AFTER 401</text>
<text x="1214" y="712" font-size="21" font-weight="bold" fill="#eef0f2" text-anchor="middle" textLength="91" lengthAdjust="spacingAndGlyphs" stroke="#eef0f2" stroke-width="0.9" >REDIRECT</text>
<circle cx="1538.5" cy="351" r="72" fill="#dc4fd4" opacity="0.3" filter="url(#blur8)"/>
<circle cx="1538.5" cy="351" r="62.5" fill="#22132c" stroke="#dc4fd4" stroke-width="5.5"/>
<circle cx="1538.5" cy="614.5" r="72" fill="#3fd3de" opacity="0.3" filter="url(#blur8)"/>
<circle cx="1538.5" cy="614.5" r="62.5" fill="#0f1d27" stroke="#3fd3de" stroke-width="5.5"/>
<circle cx="1538.5" cy="878" r="72" fill="#f2cd48" opacity="0.3" filter="url(#blur8)"/>
<circle cx="1538.5" cy="878" r="62.5" fill="#1c1b20" stroke="#f2cd48" stroke-width="5.5"/>
<g fill="#dc4fd4">
<circle cx="1545.8" cy="332" r="20.8"/>
<path d="M1531,343 L1502.3,365.8 L1502.3,380.5 L1515.8,380.5 L1515.8,373.1 L1525,373.1 L1525,364.6 L1534.1,364.6 L1534.1,356 L1544.6,356 L1556,346 Z"/>
</g>
<circle cx="1550.7" cy="329" r="5.5" fill="#22132c"/>
<path d="M1550.3,365 L1550.3,358 A8.35,8.35 0 0 1 1567,358 L1567,365" fill="none" stroke="#22132c" stroke-width="10"/>
<rect x="1541" y="362.2" width="37.2" height="29.3" rx="4" fill="#22132c"/>
<path d="M1550.3,366 L1550.3,358 A8.35,8.35 0 0 1 1567,358 L1567,366" fill="none" stroke="#dc4fd4" stroke-width="4.3"/>
<rect x="1544" y="365.2" width="31.2" height="23.3" rx="2.5" fill="#dc4fd4"/>
<circle cx="1558.65" cy="374.4" r="2.9" fill="#22132c"/><rect x="1557.4" y="375" width="2.5" height="6.5" fill="#22132c"/>
<g fill="#3fd3de">
<rect x="1502.7" y="584" width="6.7" height="64"/><rect x="1568.7" y="584" width="6.7" height="64"/>
<circle cx="1506" cy="584" r="5.5"/><circle cx="1572" cy="584" r="5.5"/>
<rect x="1500" y="645.5" width="13" height="5"/><rect x="1566" y="645.5" width="13" height="5"/>
<rect x="1506" y="595.5" width="66" height="5"/><rect x="1506" y="637.5" width="66" height="5"/>
<rect x="1517" y="598" width="5" height="42"/><rect x="1557" y="598" width="5" height="42"/>
</g>
<circle cx="1539" cy="618.5" r="11.5" fill="none" stroke="#e65a5c" stroke-width="4"/><line x1="1531" y1="626.5" x2="1547" y2="610.5" stroke="#e65a5c" stroke-width="4"/>
<rect x="1503" y="843" width="64.8" height="17.7" rx="3" fill="#f2cd48"/>
<rect x="1510.5" y="849.4" width="4.5" height="5" rx="1" fill="#23201c"/>
<rect x="1503" y="865" width="64.8" height="16.5" rx="3" fill="#f2cd48"/>
<rect x="1510.5" y="870.8" width="4.5" height="5" rx="1" fill="#23201c"/>
<rect x="1503" y="885.8" width="64.8" height="17.2" rx="3" fill="#f2cd48"/>
<rect x="1510.5" y="891.9" width="4.5" height="5" rx="1" fill="#23201c"/>
<circle cx="1561" cy="898.7" r="20" fill="#23201c"/><circle cx="1561" cy="898.7" r="17" fill="#f2cd48"/>
<text x="1561" y="907" font-size="24" font-weight="bold" fill="#1f1d1a" text-anchor="middle" >?</text>
<text x="1628" y="344.8" font-size="43" font-weight="bold" fill="#dc4fd4" text-anchor="start" textLength="225" lengthAdjust="spacingAndGlyphs" stroke="#dc4fd4" stroke-width="1.6" >AUTH_ISSUE</text>
<text x="1628" y="382.3" font-size="27" font-weight="normal" fill="#bcc1c9" text-anchor="start" textLength="339" lengthAdjust="spacingAndGlyphs" >Login failures, session expiration,</text>
<text x="1628" y="410.5" font-size="27" font-weight="normal" fill="#bcc1c9" text-anchor="start" textLength="140" lengthAdjust="spacingAndGlyphs" >invalid tokens</text>
<text x="1628" y="609" font-size="43" font-weight="bold" fill="#3fd3de" text-anchor="start" textLength="354" lengthAdjust="spacingAndGlyphs" stroke="#3fd3de" stroke-width="1.6" >PERMISSION_ISSUE</text>
<text x="1628" y="645.5" font-size="27" font-weight="normal" fill="#bcc1c9" text-anchor="start" textLength="324" lengthAdjust="spacingAndGlyphs" >Access denied, role restrictions,</text>
<text x="1628" y="673.5" font-size="27" font-weight="normal" fill="#bcc1c9" text-anchor="start" textLength="218" lengthAdjust="spacingAndGlyphs" >insufficient privileges</text>
<text x="1628" y="872" font-size="43" font-weight="bold" fill="#f2cd48" text-anchor="start" textLength="232" lengthAdjust="spacingAndGlyphs" stroke="#f2cd48" stroke-width="1.6" >APP_OR_ENV</text>
<text x="1628" y="908.5" font-size="27" font-weight="normal" fill="#bcc1c9" text-anchor="start" textLength="358" lengthAdjust="spacingAndGlyphs" >Environment issues, API downtime,</text>
<text x="1628" y="936.5" font-size="27" font-weight="normal" fill="#bcc1c9" text-anchor="start" textLength="202" lengthAdjust="spacingAndGlyphs" >configuration errors</text>
</svg></body></html>
